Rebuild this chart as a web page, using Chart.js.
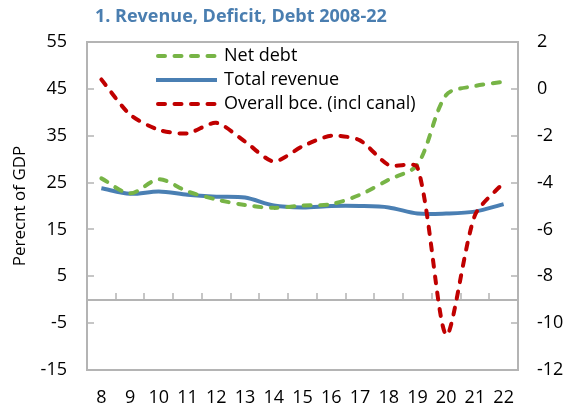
<!DOCTYPE html>
<html>
<head>
<meta charset="utf-8">
<script src="https://cdn.jsdelivr.net/npm/chart.js@4/dist/chart.umd.min.js"></script>
<style>
  html, body { margin: 0; padding: 0; background: #fff; }
  #wrap { width: 568px; height: 406px; position: relative; }
</style>
</head>
<body>
<div id="wrap"><canvas id="chart" width="568" height="406"></canvas></div>
<script>
// Revenue, deficit and debt 2008-22 (% of GDP)
const years = ['8', '9', '10', '11', '12', '13', '14', '15', '16', '17', '18', '19', '20', '21', '22'];
const netDebt = [25.9, 22.7, 25.7, 23.1, 21.4, 20.2, 19.6, 20.1, 20.4, 22.4, 25.6, 28.8, 43.7, 45.6, 46.5];
const totalRevenue = [23.8, 22.6, 23.1, 22.4, 22.0, 21.8, 20.1, 19.7, 20.0, 20.0, 19.7, 18.4, 18.4, 18.8, 20.4];
const overallBalance = [0.4, -1.1, -1.75, -1.9, -1.45, -2.25, -3.1, -2.45, -2.0, -2.2, -3.25, -3.35, -10.5, -5.4, -4.0];

const leftTicks = { min: -15, max: 55, step: 10 };
const rightTicks = { min: -12, max: 2, step: 2 };

const GREEN = '#77b446';
const BLUE = '#4a7fb3';
const RED = '#c00000';
const AXIS = '#b4b4b4';
const FONT = "'Open Sans', 'Noto Sans', sans-serif";

function line(ctx, x1, y1, x2, y2) {
    ctx.beginPath();
    ctx.moveTo(x1, y1);
    ctx.lineTo(x2, y2);
    ctx.stroke();
}

// zero line and category ticks, under the data lines
function drawZero(chart) {
    const ctx = chart.ctx;
    const a = chart.chartArea;
    const x = chart.scales.x, yl = chart.scales.y;
    const zero = Math.round(yl.getPixelForValue(0));
    ctx.save();
    ctx.fillStyle = AXIS;
    ctx.fillRect(a.left, zero - 1, a.right - a.left, 2);
    for (let i = 0; i < years.length - 1; i++) {
        const px = Math.round((x.getPixelForTick(i) + x.getPixelForTick(i + 1)) / 2);
        ctx.fillRect(px - 0.75, zero - 7, 1.5, 7);
    }
    ctx.restore();
}

// plot frame and inward value ticks, drawn last
function drawFrame(chart) {
    const ctx = chart.ctx;
    const a = chart.chartArea;
    const yl = chart.scales.y, yr = chart.scales.y1;
    const L = Math.round(a.left), R = Math.round(a.right);
    const T = Math.round(a.top), B = Math.round(a.bottom);
    ctx.save();
    ctx.globalAlpha = 1;
    ctx.globalCompositeOperation = 'source-over';
    ctx.setLineDash([]);
    ctx.strokeStyle = AXIS;
    ctx.lineWidth = 2;
    ctx.strokeRect(L, T, R - L, B - T);
    ctx.fillStyle = AXIS;
    yl.ticks.forEach(t => {
        const p = Math.round(yl.getPixelForValue(t.value));
        ctx.fillRect(L, p - 0.75, 7, 1.5);
    });
    yr.ticks.forEach(t => {
        const p = Math.round(yr.getPixelForValue(t.value));
        ctx.fillRect(R - 7, p - 0.75, 7, 1.5);
    });
    ctx.restore();
}

const decor = {
    id: 'decor',
    beforeDatasetsDraw(chart) {
        drawZero(chart);
    },
    afterDraw(chart) {
        const ctx = chart.ctx;
        ctx.save();
        ctx.fillStyle = '#4a7eb0';
        ctx.font = 'bold 18px ' + FONT;
        ctx.textBaseline = 'middle';
        ctx.textAlign = 'left';
        ctx.fillText('1. Revenue, Deficit, Debt 2008-22', 95, 17);

        const rows = [
            { label: 'Net debt', color: GREEN, dash: [7, 9.5] },
            { label: 'Total revenue', color: BLUE, dash: [] },
            { label: 'Overall bce. (incl canal)', color: RED, dash: [7, 9.5] }
        ];
        ctx.font = '18px ' + FONT;
        rows.forEach((r, i) => {
            const yy = 56 + i * 24;
            ctx.strokeStyle = r.color;
            ctx.lineWidth = 4;
            ctx.lineCap = r.dash.length ? 'round' : 'butt';
            ctx.setLineDash(r.dash);
            line(ctx, r.dash.length ? 158 : 156, yy, 217, yy);
            ctx.setLineDash([]);
            ctx.fillStyle = '#000';
            ctx.fillText(r.label, 224, yy);
        });
        ctx.restore();
        drawFrame(chart);
    }
};

const tickFont = { family: FONT, size: 18 };

new Chart(document.getElementById('chart'), {
    type: 'line',
    data: {
        labels: years,
        datasets: [
            {
                label: 'Net debt', data: netDebt, yAxisID: 'y', order: 1,
                borderColor: GREEN, borderWidth: 4, borderDash: [7, 9.5], borderCapStyle: 'round',
                pointRadius: 0, tension: 0.3, fill: false
            },
            {
                label: 'Total revenue', data: totalRevenue, yAxisID: 'y', order: 2,
                borderColor: BLUE, borderWidth: 4, pointRadius: 0, tension: 0.3, fill: false
            },
            {
                label: 'Overall bce. (incl canal)', data: overallBalance, yAxisID: 'y1', order: 0,
                borderColor: RED, borderWidth: 4, borderDash: [7, 9.5], borderCapStyle: 'round',
                pointRadius: 0, tension: 0.25, fill: false
            }
        ]
    },
    options: {
        responsive: false,
        animation: false,
        layout: { padding: { top: 42, left: 0, right: 0, bottom: 0 } },
        plugins: {
            legend: { display: false },
            title: { display: false },
            tooltip: { enabled: false }
        },
        scales: {
            x: {
                offset: true,
                grid: { display: false, drawTicks: false },
                border: { display: true, color: AXIS, width: 2 },
                ticks: { font: tickFont, color: '#000', padding: 17, maxRotation: 0, autoSkip: false },
                afterFit(s) { s.height = 36; }
            },
            y: {
                position: 'left',
                min: leftTicks.min, max: leftTicks.max,
                grid: { display: false, drawTicks: false },
                border: { display: true, color: AXIS, width: 2 },
                ticks: { stepSize: leftTicks.step, font: tickFont, color: '#000', padding: 20 },
                title: {
                    display: true, text: 'Perecnt of GDP', color: '#000',
                    font: { family: FONT, size: 17 }, padding: { top: 10, bottom: 0 }
                },
                afterFit(s) { s.width = 87; }
            },
            y1: {
                position: 'right',
                min: rightTicks.min, max: rightTicks.max,
                grid: { display: false, drawTicks: false },
                border: { display: true, color: AXIS, width: 2 },
                ticks: { stepSize: rightTicks.step, font: tickFont, color: '#000', padding: 19 },
                afterFit(s) { s.width = 50; }
            }
        }
    },
    plugins: [decor]
});
</script>
</body>
</html>
